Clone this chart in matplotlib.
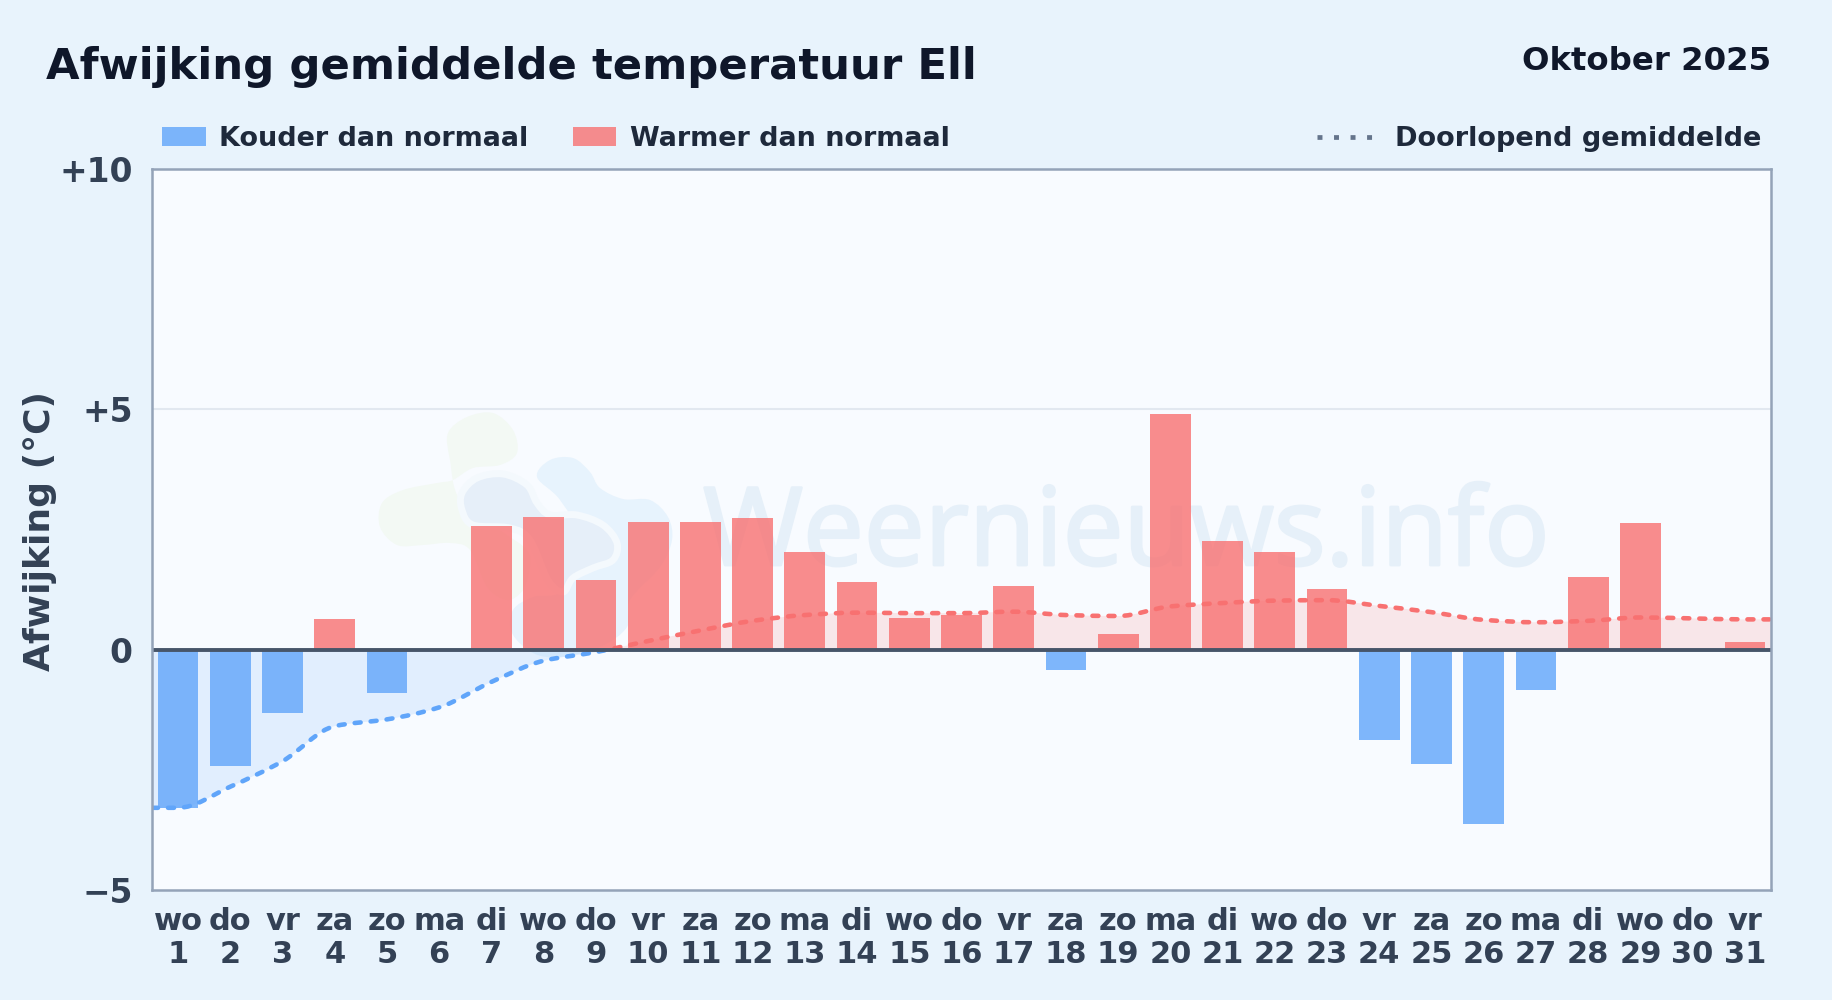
import matplotlib

matplotlib.use("Agg")
import matplotlib.patheffects as pe
import matplotlib.pyplot as plt
import numpy as np
from matplotlib.lines import Line2D
from matplotlib.patches import PathPatch, Rectangle
from matplotlib.path import Path

W, H = 1832, 1000

days = list(range(1, 32))
weekdays = ["wo", "do", "vr", "za", "zo", "ma", "di", "wo", "do", "vr", "za", "zo", "ma", "di", "wo", "do",
            "vr", "za", "zo", "ma", "di", "wo", "do", "vr", "za", "zo", "ma", "di", "wo", "do", "vr"]
anomaly = [-3.29, -2.42, -1.32, 0.64, -0.91, 0.0, 2.58, 2.77, 1.44, 2.66, 2.66, 2.73, 2.04, 1.40, 0.65, 0.72,
           1.33, -0.42, 0.32, 4.90, 2.27, 2.04, 1.27, -1.88, -2.38, -3.63, -0.84, 1.52, 2.64, 0.0, 0.15]
running_mean = [-3.29, -2.85, -2.32, -1.59, -1.45, -1.20, -0.67, -0.23, -0.05, 0.18, 0.40, 0.60, 0.72, 0.77,
                0.76, 0.76, 0.79, 0.72, 0.70, 0.90, 0.97, 1.02, 1.03, 0.91, 0.78, 0.62, 0.57, 0.60, 0.67, 0.65, 0.63]
yticks = [-5, 0, 5, 10]
ytick_labels = ["\u22125", "0", "+5", "+10"]

BLUE = "#60a5fa"
RED = "#f87171"
TICK = "#334155"
LEGEND_TEXT = "#1e293b"
TITLE = "#0f172a"

# watermark logo outlines, in image pixels
logo_green = [(448, 433), (467, 417), (493, 413), (513, 430), (517, 453), (500, 465), (473, 468), (453, 480),
              (437, 483), (403, 490), (382, 503), (380, 527), (397, 545), (423, 545), (450, 543), (470, 550),
              (487, 587), (507, 600), (523, 590), (530, 567), (527, 550), (500, 530), (460, 500), (450, 460)]
logo_light = [(537, 477), (550, 460), (573, 458), (590, 472), (600, 488), (623, 499), (650, 500), (668, 517),
              (672, 540), (660, 567), (630, 600), (627, 627), (600, 647), (560, 657), (533, 653), (512, 633),
              (513, 610), (533, 597), (563, 590), (580, 540), (560, 500)]
logo_grey = [(462, 493), (477, 478), (503, 474), (527, 485), (537, 503), (550, 515), (577, 515), (603, 525),
             (617, 543), (613, 560), (593, 568), (573, 578), (563, 592), (548, 580), (530, 540), (510, 528),
             (473, 525), (462, 510)]


def fx(x):
    return x / W


def fy(y):
    return 1 - y / H


def blob_path(points):
    # closed catmull-rom outline through the points
    pts = np.array([(fx(x), fy(y)) for x, y in points])
    n = len(pts)
    verts = [pts[0]]
    codes = [Path.MOVETO]
    for i in range(n):
        p0, p1, p2, p3 = pts[i - 1], pts[i], pts[(i + 1) % n], pts[(i + 2) % n]
        verts += [p1 + (p2 - p0) / 6, p2 - (p3 - p1) / 6, p2]
        codes += [Path.CURVE4] * 3
    return Path(verts, codes)


def monotone_curve(x, y):
    # bezier segments with monotone tangents, the way d3 curveMonotoneX draws
    x = np.asarray(x, dtype=float)
    y = np.asarray(y, dtype=float)
    h = np.diff(x)
    s = np.diff(y) / h
    t = np.zeros(len(x))
    for i in range(1, len(x) - 1):
        if s[i - 1] * s[i] > 0:
            t[i] = 2 * s[i - 1] * s[i] / (s[i - 1] + s[i])
    t[0] = s[0]
    t[-1] = s[-1]
    verts = [(x[0], y[0])]
    codes = [Path.MOVETO]
    for i in range(len(h)):
        verts += [(x[i] + h[i] / 3, y[i] + t[i] * h[i] / 3),
                  (x[i + 1] - h[i] / 3, y[i + 1] - t[i + 1] * h[i] / 3),
                  (x[i + 1], y[i + 1])]
        codes += [Path.CURVE4] * 3
    return verts, codes


fig = plt.figure(figsize=(W / 100, H / 100), dpi=100, facecolor="#e8f3fc")
ax = fig.add_axes([fx(152), 1 - 890 / H, (1771 - 152) / W, (890 - 169) / H], facecolor="#f8fbff")
ax.set_xlim(0.5, 31.5)
ax.set_ylim(-5, 10)

# watermark
ax.add_patch(PathPatch(blob_path(logo_green), transform=fig.transFigure, fc="#f3f9f4", ec="none", zorder=0.5))
ax.add_patch(PathPatch(blob_path(logo_light), transform=fig.transFigure, fc="#e7f3fd", ec="none", zorder=0.6))
ax.add_patch(PathPatch(blob_path(logo_grey), transform=fig.transFigure, fc="#e6eff9", ec="#f4f9fd", lw=5, zorder=0.7))
ax.text(fx(703), fy(565), "Weernieuws.info", transform=fig.transFigure, family="Open Sans",
        fontsize=78, color="#e6f0f9", ha="left", va="baseline", zorder=0.8,
        path_effects=[pe.withStroke(linewidth=2, foreground="#e6f0f9")])

ax.axhline(5, color="#e2e8f0", lw=1.5, zorder=1)

# running mean, blue below zero and red above
curve_x = [0.5] + days + [31.5]
curve_y = [running_mean[0]] + running_mean + [running_mean[-1]]
verts, codes = monotone_curve(curve_x, curve_y)
fill_path = Path(verts + [(31.5, 0), (0.5, 0), (0.5, curve_y[0])], codes + [Path.LINETO] * 3)
line_path = Path(verts, codes)
for color, y0, height in [(BLUE, -5, 5), (RED, 0, 10)]:
    clip = Rectangle((0.5, y0), 31, height, transform=ax.transData)
    area = PathPatch(fill_path, fc=color, ec="none", alpha=0.15, zorder=2)
    ax.add_patch(area)
    area.set_clip_path(clip)
    line = PathPatch(line_path, fc="none", ec=color, lw=3.3, linestyle=(0, (1.3, 2.2)), capstyle="round", zorder=4)
    ax.add_patch(line)
    line.set_clip_path(clip)

bar_colors = [BLUE if v < 0 else RED for v in anomaly]
ax.bar(days, anomaly, width=0.78, color=bar_colors, alpha=0.8, zorder=3)
ax.axhline(0, color="#475569", lw=2.8, zorder=5)

ax.set_xticks(days)
ax.set_xticklabels([f"{d}\n{n}" for d, n in zip(weekdays, days)], fontsize=22, fontweight="bold",
                   color=TICK, linespacing=1.17)
ax.set_yticks(yticks)
ax.set_yticklabels(ytick_labels, fontsize=23.7, fontweight="bold", color=TICK)
ax.tick_params(axis="x", length=0, pad=12.5)
ax.tick_params(axis="y", length=0, pad=14)
for spine in ax.spines.values():
    spine.set_color("#94a3b8")
    spine.set_linewidth(1.8)
    spine.set_zorder(6)

fig.text(fx(46), fy(79), "Afwijking gemiddelde temperatuur Ell", fontsize=31.22, fontweight="bold", color=TITLE)
fig.text(fx(1771.5), fy(70), "Oktober 2025", fontsize=23.3, fontweight="bold", color=TITLE, ha="right")
fig.text(fx(40), fy(531), "Afwijking (°C)", fontsize=26, fontweight="bold", color=TICK, rotation=90,
         ha="center", va="center")

# legend
fig.add_artist(Rectangle((fx(162), fy(146)), 44 / W, 19 / H, transform=fig.transFigure, fc=BLUE, alpha=0.8, ec="none"))
fig.add_artist(Rectangle((fx(573), fy(146)), 43 / W, 19 / H, transform=fig.transFigure, fc=RED, alpha=0.8, ec="none"))
fig.add_artist(Line2D([fx(1317), fx(1372)], [fy(137), fy(137)], transform=fig.transFigure, color="#64748b", lw=3.4,
                      linestyle=(0, (1.05, 2.45)), dash_capstyle="butt"))
fig.text(fx(219), fy(146), "Kouder dan normaal", fontsize=19.45, fontweight="bold", color=LEGEND_TEXT)
fig.text(fx(630), fy(146), "Warmer dan normaal", fontsize=19.45, fontweight="bold", color=LEGEND_TEXT)
fig.text(fx(1761), fy(146), "Doorlopend gemiddelde", fontsize=19.5, fontweight="bold", color=LEGEND_TEXT, ha="right")

fig.savefig("out.png", dpi=100, facecolor=fig.get_facecolor())
